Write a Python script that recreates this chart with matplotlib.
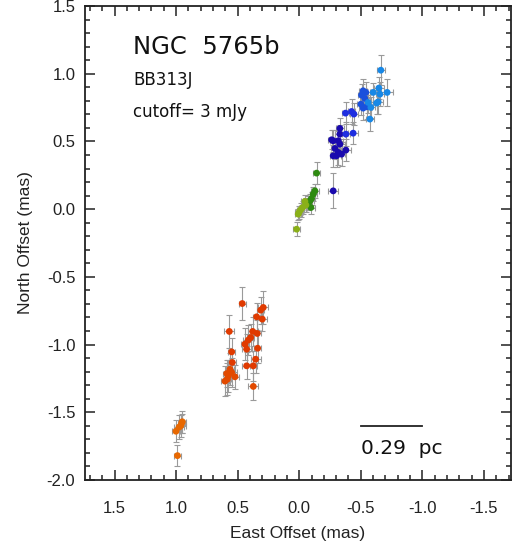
import matplotlib
matplotlib.use("Agg")
import matplotlib.pyplot as plt
from matplotlib.ticker import MultipleLocator

# ---- data (mas) ----
east = [1.001, 0.976, 0.955, 0.963, 0.950, 0.989,
        0.463, 0.292, 0.313, 0.300, 0.346, 0.568, 0.378, 0.394, 0.341, 0.414,
        0.441, 0.427, 0.549, 0.338, 0.354, 0.544, 0.427, 0.373, 0.562, 0.589,
        0.549, 0.576, 0.522, 0.584, 0.373, 0.603,
        -0.141, -0.127, -0.114, -0.100, -0.087, -0.073, -0.095,
        -0.046, -0.054, -0.027, -0.011, 0.002, 0.008, 0.021,
        -0.276, -0.330, -0.330, -0.263, -0.276, -0.317, -0.290, -0.330, -0.317,
        -0.276, -0.303, -0.344, -0.379,
        -0.376, -0.425, -0.444, -0.438, -0.379,
        -0.541, -0.519, -0.506, -0.533, -0.501, -0.519, -0.547,
        -0.663, -0.714, -0.647, -0.655, -0.601, -0.641, -0.628, -0.574, -0.582, -0.560]
north = [-1.64, -1.61, -1.58, -1.60, -1.57, -1.82,
         -0.697, -0.726, -0.746, -0.812, -0.795, -0.903, -0.903, -0.948, -0.918, -0.967,
         -0.997, -1.034, -1.054, -1.027, -1.108, -1.132, -1.157, -1.157, -1.182, -1.214,
         -1.206, -1.231, -1.238, -1.256, -1.309, -1.270,
         0.266, 0.135, 0.111, 0.079, 0.061, 0.044, 0.012,
         0.057, 0.030, 0.012, -0.005, -0.024, -0.037, -0.148,
         0.135, 0.596, 0.554, 0.512, 0.505, 0.505, 0.448, 0.480, 0.419,
         0.394, 0.394, 0.406, 0.436,
         0.709, 0.721, 0.702, 0.561, 0.554,
         0.862, 0.874, 0.842, 0.817, 0.775, 0.746, 0.756,
         1.026, 0.862, 0.894, 0.849, 0.862, 0.792, 0.783, 0.665, 0.751, 0.788]
east_err = [0.03, 0.04, 0.03, 0.04, 0.03, 0.03,
            0.03, 0.04, 0.03, 0.04, 0.03, 0.04, 0.04, 0.03, 0.03, 0.04,
            0.03, 0.04, 0.03, 0.03, 0.04, 0.03, 0.04, 0.03, 0.03, 0.03,
            0.04, 0.03, 0.03, 0.03, 0.04, 0.03,
            0.03, 0.03, 0.03, 0.03, 0.03, 0.03, 0.03,
            0.03, 0.03, 0.03, 0.03, 0.03, 0.03, 0.03,
            0.04, 0.03, 0.04, 0.03, 0.03, 0.04, 0.03, 0.04, 0.03,
            0.03, 0.04, 0.03, 0.04,
            0.03, 0.03, 0.03, 0.04, 0.03,
            0.04, 0.03, 0.03, 0.04, 0.03, 0.03, 0.04,
            0.03, 0.05, 0.04, 0.03, 0.03, 0.04, 0.03, 0.03, 0.03, 0.04]
north_err = [0.08, 0.09, 0.07, 0.08, 0.08, 0.08,
             0.12, 0.12, 0.10, 0.09, 0.10, 0.12, 0.11, 0.10, 0.10, 0.11,
             0.12, 0.11, 0.10, 0.11, 0.10, 0.09, 0.10, 0.11, 0.12, 0.10,
             0.11, 0.12, 0.09, 0.12, 0.10, 0.11,
             0.08, 0.05, 0.05, 0.05, 0.05, 0.05, 0.05,
             0.05, 0.05, 0.05, 0.05, 0.05, 0.04, 0.05,
             0.13, 0.08, 0.07, 0.07, 0.08, 0.07, 0.08, 0.08, 0.09,
             0.08, 0.08, 0.09, 0.08,
             0.08, 0.09, 0.08, 0.08, 0.09,
             0.08, 0.09, 0.08, 0.07, 0.08, 0.09, 0.09,
             0.11, 0.10, 0.08, 0.09, 0.07, 0.09, 0.08, 0.09, 0.08, 0.08]
colors = (["#E86800"] * 6
          + ["#E03A00"] * 18 + ["#E24A00"] * 8
          + ["#2E8A10"] * 7
          + ["#8AB018"] * 7
          + ["#1A0AAE"] * 13
          + ["#1E2EE0"] * 5
          + ["#1A50DC"] * 7
          + ["#1888E6"] * 10)

title = "NGC  5765b"
subtitle = "BB313J"
cutoff_text = "cutoff= 3 mJy"
scale_label = "0.29  pc"
x_ticks = [1.5, 1.0, 0.5, 0.0, -0.5, -1.0, -1.5]
y_ticks = [1.5, 1.0, 0.5, 0.0, -0.5, -1.0, -1.5, -2.0]

fig = plt.figure(figsize=(5.13, 5.46), dpi=100)
ax = fig.add_axes([85 / 513, 66 / 546, 426 / 513, 474 / 546])

ax.errorbar(east, north, xerr=east_err, yerr=north_err, fmt="none",
            ecolor="#9a9a9a", elinewidth=0.8, capsize=2.5, capthick=0.8, zorder=2)
ax.scatter(east, north, s=24, c=colors, edgecolors="none", zorder=3)

ax.set_xlim(1.74, -1.72)
ax.set_ylim(-2.0, 1.5)
ax.set_xticks(x_ticks)
ax.set_yticks(y_ticks)
ax.set_xticklabels([f"{t:.1f}" for t in x_ticks], family="Liberation Sans", fontsize=12)
ax.set_yticklabels([f"{t:.1f}" for t in y_ticks], family="Liberation Sans", fontsize=12)
ax.xaxis.set_minor_locator(MultipleLocator(0.1))
ax.yaxis.set_minor_locator(MultipleLocator(0.1))
ax.tick_params(which="both", direction="in", top=True, right=True, width=1.1, colors="#222222")
ax.tick_params(which="major", length=7)
ax.tick_params(which="minor", length=3.5)
ax.tick_params(axis="x", which="major", pad=15)
ax.tick_params(axis="y", which="major", pad=7)
for s in ax.spines.values():
    s.set_linewidth(1.3)
    s.set_color("#222222")

ax.set_xlabel("East Offset (mas)", family="Liberation Sans", fontsize=12.5, labelpad=7.5, color="#222222")
ax.set_ylabel("North Offset (mas)", family="Liberation Sans", fontsize=12.5, labelpad=10, color="#222222")

ax.text(0.113, 0.913, title, transform=ax.transAxes, fontsize=17.5, va="center", ha="left",
        family="DejaVu Sans", color="#111111")
ax.text(0.113, 0.844, subtitle, transform=ax.transAxes, fontsize=12, va="center", ha="left",
        family="DejaVu Sans", color="#111111")
ax.text(0.113, 0.776, cutoff_text, transform=ax.transAxes, fontsize=12, va="center", ha="left",
        family="DejaVu Sans", color="#111111")

# scale bar: 0.5 mas
ax.plot([-0.5, -1.0], [-1.60, -1.60], color="#222222", lw=1.3)
ax.text(-0.5, -1.765, scale_label, fontsize=14.5, va="center", ha="left",
        family="DejaVu Sans", color="#111111")

fig.savefig("out.png", dpi=100)
